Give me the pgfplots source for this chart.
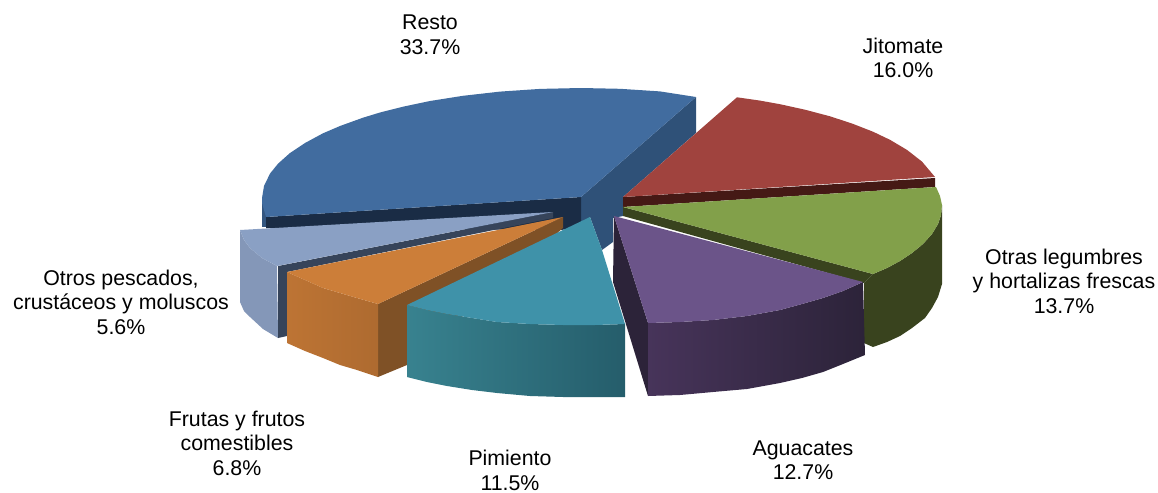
\documentclass[border=0pt]{standalone}
\usepackage{fontspec}
\setmainfont{Liberation Sans}
\usepackage{pgfplots}
\pgfplotsset{compat=1.18}
% colours
\definecolor{restoTop}{HTML}{416C9F}
\definecolor{restoWall}{HTML}{2F5178}
\definecolor{restoCut}{HTML}{1A2C45}
\definecolor{redTop}{HTML}{A0433E}
\definecolor{redCut}{HTML}{451915}
\definecolor{greenTop}{HTML}{82A04A}
\definecolor{greenCut}{HTML}{39431E}
\definecolor{purpleTop}{HTML}{6B5489}
\definecolor{purpleCut}{HTML}{2C2339}
\definecolor{purpleWallL}{HTML}{47345A}
\definecolor{tealTop}{HTML}{3F92A9}
\definecolor{tealWallL}{HTML}{38828F}
\definecolor{tealWallR}{HTML}{255D6B}
\definecolor{orangeTop}{HTML}{CC7E39}
\definecolor{orangeWall}{HTML}{BD7434}
\definecolor{orangeCut}{HTML}{7F5126}
\definecolor{blueTop}{HTML}{8AA0C4}
\definecolor{blueWall}{HTML}{8497B8}
\definecolor{blueCut}{HTML}{36445A}
\begin{document}
\begin{tikzpicture}
\begin{axis}[
    width=868.5pt, height=369.75pt, scale only axis,
    xmin=0, xmax=1158, ymin=0, ymax=493, y dir=reverse,
    hide axis, clip=false,
    nodes={font=\fontsize{16}{18.4}\selectfont, align=center, text=black, inner sep=0pt}
]
% keeps the page as large as the axis
\addplot[draw=none] coordinates {(0,0) (1158,493)};

% Resto
\addplot[fill=restoWall, draw=none] coordinates {(581,197) (696,97) (696,133) (623,197) (623,216) (613,218) (613,242) (602,250) (590,217) (581,228)};
\addplot[fill=restoWall!80!restoTop, draw=none] coordinates {(262,198) (268,198) (268,227) (262,227)};
\addplot[fill=restoCut, draw=none] coordinates {(266,217) (581,197) (581,228) (560,230) (266,228)};
\addplot[fill=restoTop, draw=none] coordinates {(581,197) (696,97) (660,91.4) (620,88.8) (581,88) (540,88.9) (500,91.6) (463,95.8) (430,101) (403,106.7) (380,112.5) (363,117.7) (340,126) (323,133.3) (305,143) (290,153) (278,163.7) (270,173.6) (264,186) (262,198) (262,203) (266,217)};

% Jitomate
\addplot[fill=redCut, draw=none] coordinates {(623,197) (935,178) (935,187) (623,207)};
\addplot[fill=redTop, draw=none] coordinates {(623,197) (737,97.3) (760,100.6) (780,104.2) (805,109.7) (830,116.3) (852,123.5) (873,131.7) (890,139.8) (907,149.9) (922,161.6) (935,177)};

% Otras legumbres
\addplot[fill=greenCut, draw=none] coordinates {(623,207) (873,274) (864,283) (623,216)};
\addplot[fill=greenCut, draw=none] coordinates {(873,274) (887,268) (900,261) (912,253) (923,244) (932,234) (938,224) (941,215) (942,205) (942,284) (938,297) (932,308) (925,318) (912,328) (900,336) (887,342) (873,347) (864,343) (864,283)};
\addplot[fill=greenTop, draw=none] coordinates {(623,207) (936,187) (940,196) (942,205) (941,215) (938,224) (932,234) (923,244) (912,253) (900,261) (887,268) (873,274)};

% Otros pescados
\addplot[fill=blueWall, draw=none] coordinates {(240,230) (244,240) (250,248) (262,258) (277,266) (278,338) (263,329) (250,317) (244,311) (240,302)};
\addplot[fill=blueCut, draw=none] coordinates {(553,212) (278,266) (278,338) (287,336) (287,272) (553,218)};
\addplot[fill=blueTop, draw=none] coordinates {(553,212) (240,230) (244,240) (250,248) (262,258) (277,266)};

% Frutas
\addplot[fill=orangeCut, draw=none] coordinates {(563,217) (378,304) (378,377) (407,365) (563,228)};
\addplot[left color=orangeWall, right color=orangeWall!92!black, draw=none] coordinates {(287,272) (305,280) (323,288) (340,293) (357,298) (378,304) (378,377) (357,370) (340,365) (323,358) (305,351) (287,343)};
\addplot[fill=orangeTop, draw=none] coordinates {(563,217) (287,272) (305,280) (323,288) (340,293) (357,298) (378,304)};

% Pimiento
\addplot[left color=tealWallL, right color=tealWallR, draw=none] coordinates {(407,305) (427,310) (447,314) (472,318) (497,322) (530,324) (563,325) (595,325) (625,324) (625,397) (595,397) (563,397) (530,396) (497,393) (472,390) (447,386) (427,382) (407,377)};
\addplot[fill=tealTop, draw=none] coordinates {(590,217) (407,305) (427,310) (447,314) (472,318) (497,322) (530,324) (563,325) (595,325) (625,324) (602,250)};

% Aguacates
\addplot[fill=purpleCut, draw=none] coordinates {(614,216) (648,323) (648,396) (613,282)};
\addplot[left color=purpleWallL, right color=purpleCut, draw=none] coordinates {(648,323) (680,322) (713,320) (747,316) (780,310) (802,304) (823,298) (843,291) (863,282) (865,355) (843,364) (823,372) (802,378) (780,383) (747,389) (713,392) (680,395) (648,396)};
\addplot[fill=purpleTop, draw=none] coordinates {(614,216) (863,282) (843,291) (823,298) (802,304) (780,310) (747,316) (713,320) (680,322) (648,323)};

% labels
\node at (axis cs:430,35) {Resto\\33.7\%};
\node at (axis cs:903,58) {Jitomate\\16.0\%};
\node at (axis cs:1064,281) {Otras legumbres\\y hortalizas frescas\\13.7\%};
\node at (axis cs:121,302) {Otros pescados,\\crustáceos y moluscos\\5.6\%};
\node at (axis cs:237,443) {Frutas y frutos\\comestibles\\6.8\%};
\node at (axis cs:510,470.5) {Pimiento\\11.5\%};
\node at (axis cs:803,460) {Aguacates\\12.7\%};
\end{axis}
\pgfresetboundingbox
\path (0,0) rectangle (868.5pt,369.75pt);
\end{tikzpicture}
\end{document}
